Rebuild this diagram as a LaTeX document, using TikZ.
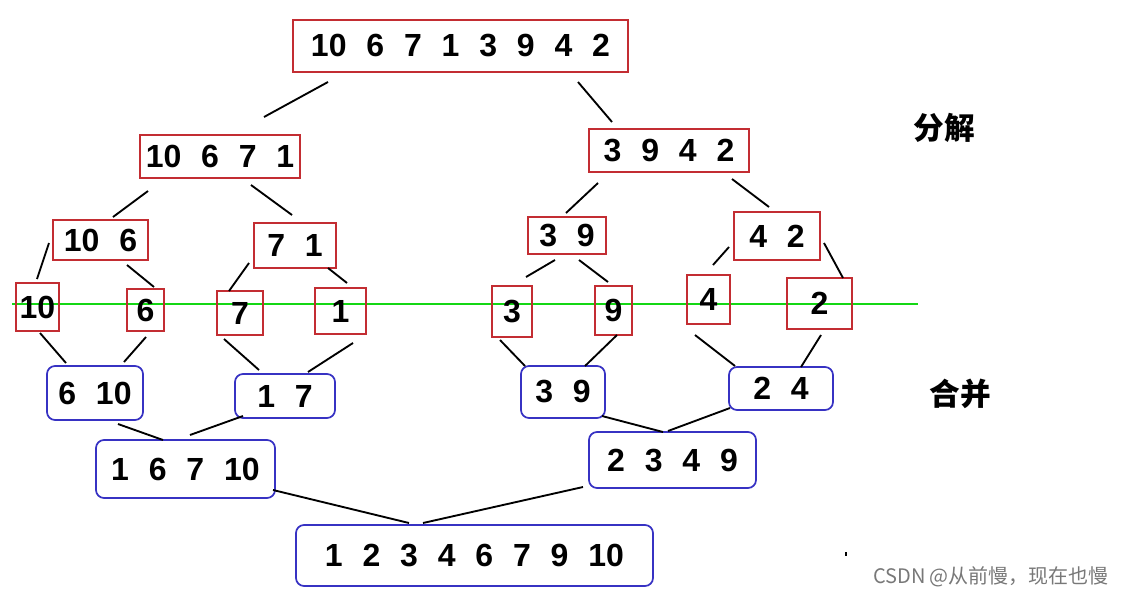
\documentclass[tikz,border=0pt]{standalone}
\usepackage{fontspec}
\setmainfont{Liberation Sans}
\newfontfamily\cjk{Noto Sans CJK SC}
\newcommand\gp{\hspace{0.62em}}
\definecolor{boxred}{RGB}{195,45,50}
\definecolor{boxblue}{RGB}{55,50,195}
\definecolor{cutgreen}{RGB}{20,215,20}
\definecolor{wmgray}{RGB}{120,120,120}
\tikzset{
  num/.style={inner sep=0pt, font=\bfseries\fontsize{24}{28}\selectfont},
  rbox/.style={num, draw=boxred, line width=1.3pt},
  bbox/.style={num, draw=boxblue, line width=1.3pt, rounded corners=6pt},
  conn/.style={draw=black, line width=1.4pt},
  lbl/.style={inner sep=0pt, font=\cjk\bfseries\fontsize{23}{26}\selectfont},
}
\begin{document}
\begin{tikzpicture}[x=0.75pt,y=-0.75pt]
\useasboundingbox (0,0) rectangle (1123,596);
% green cut line
\draw[cutgreen, line width=1.3pt] (12,304) coordinate (g1) -- (918,304) coordinate (g2);
% split boxes
\node[rbox, minimum width=251.25pt, minimum height=39pt] (top) at (460.5,46) {10\gp6\gp7\gp1\gp3\gp9\gp4\gp2};
\node[rbox, minimum width=120pt, minimum height=32.25pt] (la) at (220,156.5) {10\gp6\gp7\gp1};
\node[rbox, minimum width=120pt, minimum height=32.25pt] (lb) at (669,150.5) {3\gp9\gp4\gp2};
\node[rbox, minimum width=71.25pt, minimum height=30pt] (ma) at (100.5,240) {10\gp6};
\node[rbox, minimum width=61.5pt, minimum height=33.75pt] (mb) at (295,245.5) {7\gp1};
\node[rbox, minimum width=58.5pt, minimum height=27.75pt] (mc) at (567,235.5) {3\gp9};
\node[rbox, minimum width=64.5pt, minimum height=36pt] (md) at (777,236) {4\gp2};
\node[rbox, minimum width=32.25pt, minimum height=36pt] (s10) at (37.5,307) {10};
\node[rbox, minimum width=27.75pt, minimum height=31.5pt] (s6) at (145.5,310) {6};
\node[rbox, minimum width=34.5pt, minimum height=33pt] (s7) at (240,313) {7};
\node[rbox, minimum width=38.25pt, minimum height=34.5pt] (s1) at (340.5,311) {1};
\node[rbox, minimum width=30pt, minimum height=38.25pt] (s3) at (512,311.5) {3};
\node[rbox, minimum width=27.75pt, minimum height=36.75pt] (s9) at (613.5,310.5) {9};
\node[rbox, minimum width=32.25pt, minimum height=36.75pt] (s4) at (708.5,299.5) {4};
\node[rbox, minimum width=48.75pt, minimum height=38.25pt] (s2) at (819.5,303.5) {2};
% merge boxes
\node[bbox, minimum width=72pt, minimum height=40.5pt] (m610) at (95,393) {6\gp10};
\node[bbox, minimum width=75pt, minimum height=33pt] (m17) at (285,396) {1\gp7};
\node[bbox, minimum width=63pt, minimum height=39pt] (m39) at (563,392) {3\gp9};
\node[bbox, minimum width=78pt, minimum height=32.25pt] (m24) at (781,388.5) {2\gp4};
\node[bbox, minimum width=134.25pt, minimum height=43.5pt] (m1) at (185.5,469) {1\gp6\gp7\gp10};
\node[bbox, minimum width=125.25pt, minimum height=42pt] (m2) at (672.5,460) {2\gp3\gp4\gp9};
\node[bbox, minimum width=267.75pt, minimum height=45.75pt] (fin) at (474.5,555.5) {1\gp2\gp3\gp4\gp6\gp7\gp9\gp10};
% connectors (split)
\draw[conn] (328,82) coordinate (c1a) -- (264,117) coordinate (c1b);
\draw[conn] (578,82) coordinate (c2a) -- (612,122) coordinate (c2b);
\draw[conn] (148,191) coordinate (c3a) -- (113,217) coordinate (c3b);
\draw[conn] (251,185) coordinate (c4a) -- (292,215) coordinate (c4b);
\draw[conn] (598,183) coordinate (c5a) -- (566,213) coordinate (c5b);
\draw[conn] (732,179) coordinate (c6a) -- (769,207) coordinate (c6b);
\draw[conn] (49,243) coordinate (c7a) -- (37,279) coordinate (c7b);
\draw[conn] (127,265) coordinate (c8a) -- (154,287) coordinate (c8b);
\draw[conn] (249,263) coordinate (c9a) -- (229,291) coordinate (c9b);
\draw[conn] (328,268) coordinate (c10a) -- (347,283) coordinate (c10b);
\draw[conn] (555,260) coordinate (c11a) -- (526,277) coordinate (c11b);
\draw[conn] (579,260) coordinate (c12a) -- (608,282) coordinate (c12b);
\draw[conn] (729,247) coordinate (c13a) -- (713,265) coordinate (c13b);
\draw[conn] (824,243) coordinate (c14a) -- (843,278) coordinate (c14b);
% connectors (merge)
\draw[conn] (40,333) coordinate (c15a) -- (66,363) coordinate (c15b);
\draw[conn] (146,337) coordinate (c16a) -- (124,362) coordinate (c16b);
\draw[conn] (224,339) coordinate (c17a) -- (259,370) coordinate (c17b);
\draw[conn] (353,343) coordinate (c18a) -- (308,372) coordinate (c18b);
\draw[conn] (500,340) coordinate (c19a) -- (525,366) coordinate (c19b);
\draw[conn] (617,335) coordinate (c20a) -- (585,366) coordinate (c20b);
\draw[conn] (695,335) coordinate (c21a) -- (735,366) coordinate (c21b);
\draw[conn] (821,335) coordinate (c22a) -- (801,367) coordinate (c22b);
\draw[conn] (118,424) coordinate (c23a) -- (163,440) coordinate (c23b);
\draw[conn] (243,416) coordinate (c24a) -- (190,435) coordinate (c24b);
\draw[conn] (602,416) coordinate (c25a) -- (663,432) coordinate (c25b);
\draw[conn] (730,408) coordinate (c26a) -- (668,431) coordinate (c26b);
\draw[conn] (273,490) coordinate (c27a) -- (409,523) coordinate (c27b);
\draw[conn] (583,487) coordinate (c28a) -- (423,523) coordinate (c28b);
% labels
\node[lbl] (split) at (944,128) {分解};
\node[lbl] (merge) at (960,394) {合并};
\node[inner sep=0pt, fill=black, minimum width=1.5pt, minimum height=3pt] (dot) at (846,554) {};
\node[inner sep=0pt, text=wmgray, font=\cjk\fontsize{15}{18}\selectfont] (wm) at (991,577) {CSDN @从前慢，现在也慢};
\end{tikzpicture}
\end{document}
